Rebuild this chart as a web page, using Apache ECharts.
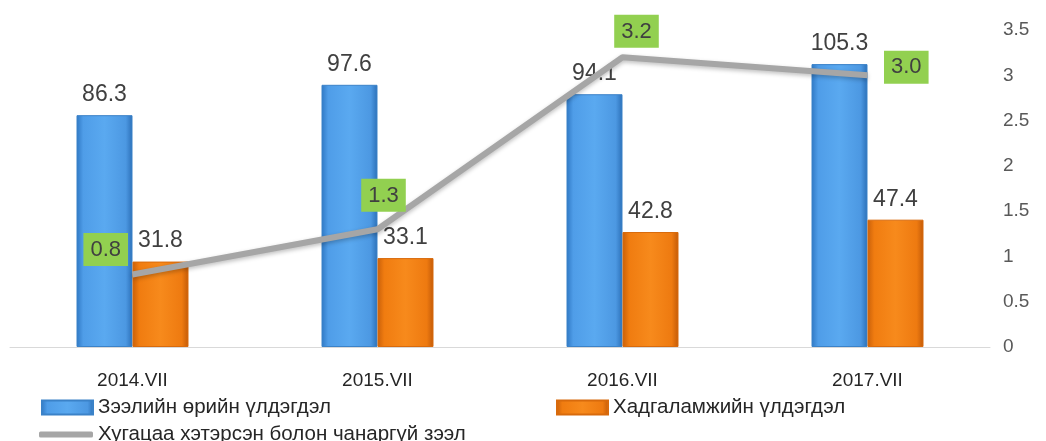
<!DOCTYPE html>
<html>
<head>
<meta charset="utf-8">
<script src="https://cdn.jsdelivr.net/npm/echarts@6/dist/echarts.min.js"></script>
<style>
  html, body { margin: 0; padding: 0; background: #fff; }
  #chart { width: 1046px; height: 441px; }
</style>
</head>
<body>
<div id="chart"></div>
<script>
// data
const categories = ['2014.VII', '2015.VII', '2016.VII', '2017.VII']
const loanBalance = [86.3, 97.6, 94.1, 105.3]
const depositBalance = [31.8, 33.1, 42.8, 47.4]
const badLoanRatio = [0.8, 1.3, 3.2, 3.0]
const rightTicks = [0, 0.5, 1, 1.5, 2, 2.5, 3, 3.5]

const seriesNames = [
  'Зээлийн өрийн үлдэгдэл',
  'Хадгаламжийн үлдэгдэл',
  'Хугацаа хэтэрсэн болон чанаргүй зээл'
]

// where each green label sits around its point
const lineLabelPos = ['left', 'top', 'top', 'right']
const lineLabelShift = [[1, -25], [6, -12], [14, -4], [11, -8]]

const chart = echarts.init(document.getElementById('chart'))

const font = '"Liberation Sans", Arial, sans-serif'

const blueFill = new echarts.graphic.LinearGradient(0, 0, 1, 0, [
  { offset: 0, color: '#2f78c4' },
  { offset: 0.12, color: '#4f9de8' },
  { offset: 0.5, color: '#5aa9f0' },
  { offset: 0.88, color: '#4c98e2' },
  { offset: 1, color: '#2c70b8' }
])
const orangeFill = new echarts.graphic.LinearGradient(0, 0, 1, 0, [
  { offset: 0, color: '#c9600a' },
  { offset: 0.12, color: '#f07c10' },
  { offset: 0.5, color: '#f78a1c' },
  { offset: 0.88, color: '#ee7a10' },
  { offset: 1, color: '#c25a08' }
])

const barLabel = {
  show: true,
  position: 'top',
  distance: 9,
  color: '#404040',
  fontSize: 23,
  fontFamily: font
}

const legendText = { fontSize: 20.5, color: '#262626', fontFamily: font }

const option = {
  animation: false,
  textStyle: { fontFamily: font },
  grid: { left: 10, right: 56, top: 30, bottom: 94 },
  legend: [
    {
      left: 41, top: 397, padding: 0,
      data: [{ name: seriesNames[0], icon: 'rect' }],
      itemWidth: 51, itemHeight: 14, itemGap: 0,
      textStyle: legendText
    },
    {
      left: 556, top: 397, padding: 0,
      data: [{ name: seriesNames[1], icon: 'rect' }],
      itemWidth: 51, itemHeight: 14, itemGap: 0,
      textStyle: legendText
    },
    {
      left: 39, top: 424, padding: 0,
      data: [{ name: seriesNames[2], icon: 'roundRect', itemStyle: { color: '#a6a6a6', opacity: 1 } }],
      itemWidth: 54, itemHeight: 6, itemGap: 0,
      textStyle: legendText
    }
  ],
  xAxis: {
    type: 'category',
    data: categories,
    axisLine: { lineStyle: { color: '#d9d9d9', width: 1 } },
    axisTick: { show: false },
    axisLabel: { color: '#262626', fontSize: 19, margin: 24, fontFamily: font }
  },
  yAxis: [
    {
      type: 'value',
      min: 0,
      max: 118,
      show: false,
      splitLine: { show: false }
    },
    {
      type: 'value',
      position: 'right',
      min: rightTicks[0],
      max: rightTicks[rightTicks.length - 1],
      interval: 0.5,
      axisLine: { show: false },
      axisTick: { show: false },
      splitLine: { show: false },
      axisLabel: { color: '#595959', fontSize: 19, margin: 13, fontFamily: font }
    }
  ],
  series: [
    {
      name: seriesNames[0],
      type: 'bar',
      data: loanBalance,
      barWidth: 56,
      barGap: '0%',
      itemStyle: { color: blueFill, borderColor: '#3b82c8', borderWidth: 1 },
      label: barLabel
    },
    {
      name: seriesNames[1],
      type: 'bar',
      data: depositBalance,
      barWidth: 56,
      barGap: '0%',
      itemStyle: { color: orangeFill, borderColor: '#d86a0c', borderWidth: 1 },
      label: barLabel
    },
    {
      name: seriesNames[2],
      type: 'line',
      yAxisIndex: 1,
      data: badLoanRatio.map((v, i) => ({
        value: v,
        label: { position: lineLabelPos[i] }
      })),
      symbol: 'circle',
      symbolSize: 1,
      showSymbol: true,
      lineStyle: {
        color: '#a6a6a6',
        width: 6,
        shadowColor: 'rgba(0,0,0,0.25)',
        shadowBlur: 4,
        shadowOffsetY: 2
      },
      itemStyle: { color: 'rgba(166,166,166,0)' },
      label: {
        show: true,
        formatter: p => p.value.toFixed(1),
        backgroundColor: '#92d050',
        color: '#404040',
        fontSize: 22,
        fontFamily: font,
        padding: [6, 7, 5, 7]
      },
      labelLayout: p => ({
        dx: lineLabelShift[p.dataIndex][0],
        dy: lineLabelShift[p.dataIndex][1],
        hideOverlap: false
      }),
      z: 5
    }
  ]
}

chart.setOption(option)
</script>
</body>
</html>
